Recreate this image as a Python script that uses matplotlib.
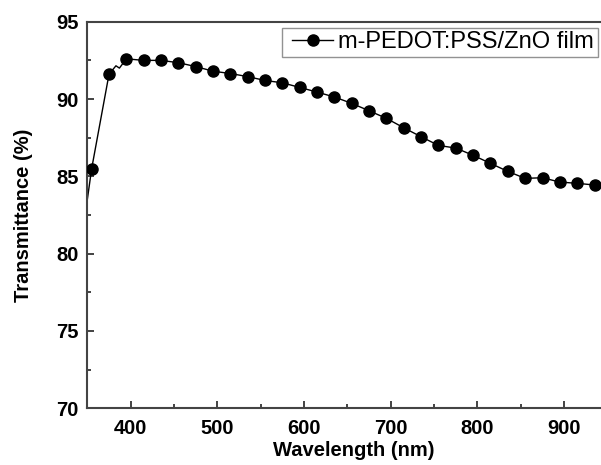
import matplotlib
matplotlib.use("Agg")
import matplotlib.pyplot as plt
from matplotlib.ticker import MultipleLocator
from matplotlib.lines import Line2D
from matplotlib.legend_handler import HandlerLine2D

plt.rcParams['font.family'] = ['Liberation Sans', 'DejaVu Sans']

# marker points, every 20 nm
wavelength = [355, 375, 395, 415, 435, 455, 475, 495, 515, 535,
              555, 575, 595, 615, 635, 655, 675, 695, 715, 735,
              755, 775, 795, 815, 835, 855, 875, 895, 915, 935]
transmittance = [85.5, 91.6, 92.6, 92.5, 92.5, 92.35, 92.1, 91.8, 91.65, 91.45,
                 91.2, 91.05, 90.75, 90.45, 90.13, 89.72, 89.24, 88.75, 88.14, 87.56,
                 87.0, 86.83, 86.36, 85.84, 85.32, 84.87, 84.91, 84.63, 84.55, 84.44]

# extra points on the measured curve between markers
extra_wl = [350, 383, 387]
extra_t = [83.5, 92.15, 92.0]

line_pts = sorted(zip(wavelength + extra_wl, transmittance + extra_t))
line_wl = [p[0] for p in line_pts]
line_t = [p[1] for p in line_pts]

fig = plt.figure(figsize=(6.01, 4.65), dpi=100)
# right spine falls outside the picture, as in the original
ax = fig.add_axes([0.1453, 0.1219, 0.8872, 0.8314])

ax.plot(line_wl, line_t, color='black', lw=1.0, zorder=2)
ax.plot(wavelength, transmittance, 'o', color='black', ms=8, zorder=3)
# proxy for the legend (line + marker)
ax.plot([], [], '-o', color='black', lw=1.0, ms=8, label='m-PEDOT:PSS/ZnO film')

ax.set_xlim(350, 965)
ax.set_ylim(70, 95)
ax.xaxis.set_major_locator(MultipleLocator(100))
ax.xaxis.set_minor_locator(MultipleLocator(50))
ax.yaxis.set_major_locator(MultipleLocator(5))
ax.yaxis.set_minor_locator(MultipleLocator(2.5))

ax.tick_params(which='both', direction='in', color='#222222', width=1.2)
ax.tick_params(which='major', length=5)
ax.tick_params(which='minor', length=3)
ax.tick_params(axis='x', pad=8)
ax.tick_params(axis='y', pad=6)
for lbl in ax.get_xticklabels() + ax.get_yticklabels():
    lbl.set_fontsize(14.5)
    lbl.set_fontweight('bold')

for s in ax.spines.values():
    s.set_color('#444444')
    s.set_linewidth(1.5)

ax.set_xlabel('Wavelength (nm)', fontsize=14.5, fontweight='bold', labelpad=2)
ax.set_ylabel('Transmittance (%)', fontsize=14.5, fontweight='bold', labelpad=17)

leg = ax.legend(loc='upper right', bbox_to_anchor=(597.7 / 601, (465 - 27.7) / 465),
                bbox_transform=fig.transFigure, borderaxespad=0, fontsize=17,
                frameon=True, fancybox=False, borderpad=0.15, handlelength=2.03,
                handletextpad=0.22,
                handler_map={Line2D: HandlerLine2D(xpad=0.3)})
leg.get_frame().set_edgecolor('#777777')
leg.get_frame().set_linewidth(1.0)

fig.savefig('out.png', dpi=100)
